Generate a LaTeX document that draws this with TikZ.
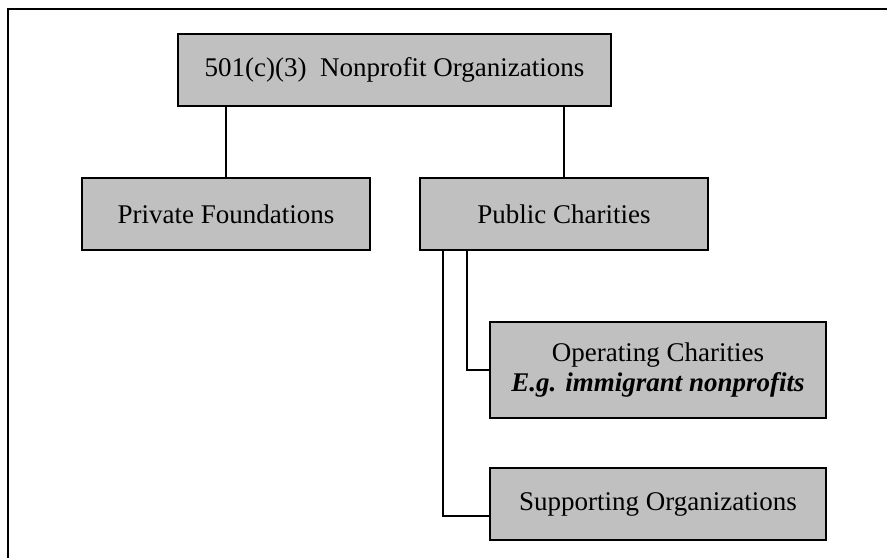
\documentclass[tikz,border=0pt]{standalone}
\usepackage{fontspec}
\setmainfont{Liberation Serif}
\usetikzlibrary{positioning}
\definecolor{boxgray}{RGB}{192,192,192}
\tikzset{orgbox/.style={draw, line width=1pt, fill=boxgray, minimum height=36pt,
    align=center, inner sep=2pt, font=\fontsize{13.5}{15}\selectfont},
  link/.style={line width=1.25pt}}

\begin{document}
\begin{tikzpicture}[x=0.5pt,y=-0.5pt]
  \useasboundingbox (0,0) rectangle (887,558);
  % frame (only top and left edge are in view)
  \draw[link] (8,558) -- (8,9) -- (887,9);

  \node[orgbox, minimum width=216.5pt] (npo) at (394.5,70) {501(c)(3)\ \ Nonprofit Organizations};
  \node[orgbox, minimum width=144pt] (priv) at (226,214) {Private Foundations};
  \node[orgbox, minimum width=144pt, right=24pt of priv] (pub) {Public Charities};
  \node[orgbox, minimum width=168pt, minimum height=48pt] (oper) at (658,370)
    {Operating Charities\\\textbf{\textit{E.g. immigrant nonprofits}}};
  \node[orgbox, minimum width=168pt, below=24pt of oper] (supp) {Supporting Organizations};

  \draw[link] (npo.south -| priv.north) -- (priv.north);
  \draw[link] (npo.south -| pub.north) -- (pub.north);
  \draw[link] (pub.south west) ++(48,0) |- (oper.west);
  \draw[link] (pub.south west) ++(24,0) |- ([yshift=-6pt]supp.west);
\end{tikzpicture}
\end{document}
